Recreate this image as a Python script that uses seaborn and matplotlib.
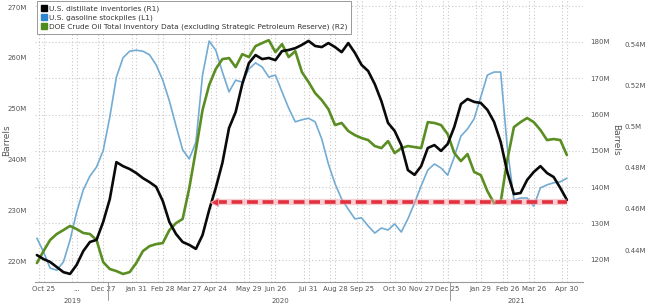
import numpy as np
import pandas as pd
import matplotlib
matplotlib.use("Agg")
import matplotlib.pyplot as plt
import matplotlib.dates as mdates
import matplotlib.transforms as mtransforms
from matplotlib.lines import Line2D
import seaborn as sns

# ---------------- data ----------------
start_date = "2019-10-18"
n_weeks = 81

distillate_r1 = [121.3, 120.2, 119.4, 118.0, 116.6, 116.1, 118.6, 122.4, 124.9, 125.5,
                 130.4, 136.7, 146.9, 145.8, 145.0, 143.9, 142.5, 141.4, 140.1, 136.2,
                 130.4, 127.1, 124.9, 124.1, 123.0, 126.8, 133.7, 139.8, 146.7, 156.3,
                 160.7, 168.4, 174.2, 176.4, 175.3, 175.6, 175.0, 177.5, 177.8, 178.3,
                 179.2, 180.3, 178.9, 178.6, 179.7, 178.6, 177.2, 179.7, 177.0, 173.7,
                 172.0, 168.4, 163.7, 157.7, 155.5, 151.6, 144.7, 143.4, 145.8, 150.8,
                 151.6, 150.0, 151.9, 156.6, 162.9, 164.3, 163.5, 163.2, 161.3, 158.0,
                 152.5, 144.2, 138.1, 138.4, 142.0, 144.2, 145.8, 143.9, 142.8, 139.8,
                 136.5]

gasoline_l1 = [224.5, 221.8, 218.6, 218.2, 219.8, 224.1, 229.6, 234.0, 236.7, 238.5,
               241.7, 248.3, 256.2, 260.0, 261.3, 261.5, 261.3, 260.6, 258.6, 255.6,
               251.5, 246.6, 241.9, 240.1, 243.4, 256.6, 263.3, 261.5, 257.2, 253.3,
               255.6, 255.2, 257.8, 259.0, 258.2, 256.2, 256.6, 253.3, 250.1, 247.4,
               247.8, 248.1, 247.4, 244.0, 239.1, 235.2, 232.2, 230.2, 228.3, 228.5,
               226.9, 225.5, 226.5, 226.1, 227.3, 225.7, 228.3, 231.4, 234.8, 237.9,
               239.1, 238.3, 236.9, 240.5, 244.6, 246.0, 248.0, 252.3, 256.6, 257.2,
               257.2, 242.4, 232.0, 232.4, 232.4, 230.8, 234.4, 235.0, 235.4, 235.6,
               236.3]

crude_r2 = [0.4337, 0.4395, 0.4449, 0.4478, 0.4497, 0.4517, 0.4502, 0.4483, 0.4478, 0.4449,
            0.4342, 0.4308, 0.4298, 0.4284, 0.4293, 0.4337, 0.4395, 0.4419, 0.4429, 0.4434,
            0.4497, 0.4531, 0.4551, 0.4701, 0.4885, 0.5080, 0.5201, 0.5279, 0.5327, 0.5332,
            0.5288, 0.5351, 0.5337, 0.5390, 0.5405, 0.5419, 0.5361, 0.5400, 0.5337, 0.5366,
            0.5264, 0.5216, 0.5162, 0.5128, 0.5084, 0.5007, 0.5017, 0.4978, 0.4958, 0.4944,
            0.4934, 0.4905, 0.4895, 0.4929, 0.4871, 0.4895, 0.4905, 0.4900, 0.4895, 0.5021,
            0.5017, 0.5007, 0.4963, 0.4871, 0.4832, 0.4866, 0.4779, 0.4764, 0.4686, 0.4628,
            0.4633, 0.4837, 0.4997, 0.5021, 0.5041, 0.5021, 0.4983, 0.4934, 0.4939, 0.4934,
            0.4861]

tick_dates = ["2019-10-25", "2019-11-29", "2019-12-27", "2020-01-31", "2020-02-28",
              "2020-03-27", "2020-04-24", "2020-05-29", "2020-06-26", "2020-07-31",
              "2020-08-28", "2020-09-25", "2020-10-30", "2020-11-27", "2020-12-25",
              "2021-01-29", "2021-02-26", "2021-03-26", "2021-04-30"]
tick_labels = ["Oct 25", "...", "Dec 27", "Jan 31", "Feb 28", "Mar 27", "Apr 24",
               "May 29", "Jun 26", "Jul 31", "Aug 28", "Sep 25", "Oct 30", "Nov 27",
               "Dec 25", "Jan 29", "Feb 26", "Mar 26", "Apr 30"]

year_labels = ["2019", "2020", "2021"]
year_centers = ["2019-11-25", "2020-07-01", "2021-03-08"]
year_breaks = ["2020-01-01", "2020-12-27"]

l1_ticks = [220, 230, 240, 250, 260, 270]
r1_ticks = [120, 130, 140, 150, 160, 170, 180]
r1_grid = [120, 130, 140, 150, 160, 170, 180, 190]
r2_ticks = [0.44, 0.46, 0.48, 0.50, 0.52, 0.54]
r2_labels = ["0.44M", "0.46M", "0.48M", "0.5M", "0.52M", "0.54M"]

series_names = ["U.S. distillate inventories (R1)",
                "U.S. gasoline stockpiles (L1)",
                "DOE Crude Oil Total Inventory Data (excluding Strategic Petroleum Reserve) (R2)"]

arrow_level = 135.9
arrow_start = "2020-04-24"
arrow_end = "2021-04-30"

# ---------------- styling ----------------
sns.set_theme(style="white")
plt.rcParams["font.family"] = ["DejaVu Sans"]

c_black = "#0a0a0a"
c_blue = "#72abd3"
c_green = "#5b8e22"
c_text = "#555555"
c_grid = "#c8c8c8"

dates = pd.date_range(start_date, periods=n_weeks, freq="7D")
df = pd.DataFrame({"date": dates, "dist": distillate_r1,
                   "gas": gasoline_l1, "crude": crude_r2})

W, H = 650, 304
fig = plt.figure(figsize=(W / 100, H / 100), dpi=100)
fig.patch.set_facecolor("white")
rect = [35 / W, 22 / H, 548 / W, 282 / H]

base = fig.add_axes(rect)           # grid + R1 tick labels
ax_l = base.twinx()                 # gasoline (L1)
ax_c = base.twinx()                 # crude (R2)
ax_d = base.twinx()                 # distillate (R1)

r1_lim = (113.88, 191.57)
l1_lim = (215.87, 271.38)
r2_lim = (0.4245, 0.5614)
xlim = (pd.Timestamp("2019-10-16"), pd.Timestamp("2021-05-17"))

for a in (base, ax_l, ax_c, ax_d):
    a.set_xlim(xlim)
    for s in a.spines.values():
        s.set_visible(False)
    a.patch.set_visible(False)
    a.set_xlabel("")
    a.set_ylabel("")

base.set_ylim(r1_lim)
ax_d.set_ylim(r1_lim)
ax_l.set_ylim(l1_lim)
ax_c.set_ylim(r2_lim)

# grid
base.yaxis.tick_right()
base.set_yticks(r1_grid)
base.set_yticklabels([f"{v}M" if v in r1_ticks else "" for v in r1_grid])
base.tick_params(axis="y", length=0, pad=5, labelsize=5, labelcolor=c_text)
base.grid(axis="y", color=c_grid, linestyle=(0, (1, 2)), linewidth=0.8)

major = [pd.Timestamp(d) for d in tick_dates]
minor = [d - pd.Timedelta(days=5) for d in major]
base.set_xticks(major)
base.set_xticklabels(tick_labels)
base.set_xticks(minor, minor=True)
base.grid(axis="x", which="both", color=c_grid, linestyle=(0, (1, 2)), linewidth=0.8)
base.tick_params(axis="x", which="major", direction="in", length=2, width=0.6,
                 color="#888888", pad=3, labelsize=5, labelcolor=c_text)
base.tick_params(axis="x", which="minor", length=0)
base.spines["bottom"].set_visible(True)
base.spines["bottom"].set_color("#999999")
base.spines["bottom"].set_linewidth(0.8)

ax_l.yaxis.tick_left()
ax_l.set_yticks(l1_ticks)
ax_l.set_yticklabels([f"{v}M" for v in l1_ticks])
ax_l.tick_params(axis="y", length=0, pad=6, labelsize=5, labelcolor=c_text)
ax_l.tick_params(axis="x", bottom=False, labelbottom=False)

ax_c.yaxis.tick_right()
ax_c.set_yticks(r2_ticks)
ax_c.set_yticklabels(r2_labels)
ax_c.tick_params(axis="y", length=0, pad=30, labelsize=5, labelcolor=c_text)
ax_c.tick_params(axis="x", bottom=False, labelbottom=False)

ax_d.set_yticks([])
ax_d.tick_params(axis="x", bottom=False, labelbottom=False)

# lines
sns.lineplot(data=df, x="date", y="gas", ax=ax_l, color=c_blue, linewidth=1.2)
sns.lineplot(data=df, x="date", y="crude", ax=ax_c, color=c_green, linewidth=1.9)
sns.lineplot(data=df, x="date", y="dist", ax=ax_d, color=c_black, linewidth=1.9)
for a in (ax_l, ax_c, ax_d):
    a.set_xlabel("")
    a.set_ylabel("")

# red dashed arrow
xs = [pd.Timestamp(arrow_start), pd.Timestamp(arrow_end)]
ax_d.plot(xs, [arrow_level, arrow_level], color="#f3a0a8", linewidth=4.5,
          alpha=0.5, solid_capstyle="butt", zorder=5)
ax_d.plot(xs, [arrow_level, arrow_level], color="#e3303f", linewidth=2.6,
          dashes=(3, 1.3), zorder=6)
ax_d.plot([xs[0] - pd.Timedelta(days=2)], [arrow_level], marker="<", markersize=6,
          color="#e3303f", markeredgecolor="#f3a0a8", markeredgewidth=0.8, zorder=7)

# year labels and separators
trans = mtransforms.blended_transform_factory(base.transData, base.transAxes)
for yb in year_breaks:
    base.plot([pd.Timestamp(yb)] * 2, [0, -0.065], transform=trans, color="#999999",
              linewidth=0.7, clip_on=False)
for lab, c in zip(year_labels, year_centers):
    base.text(pd.Timestamp(c), -0.055, lab, transform=trans, ha="center", va="top",
              fontsize=5, color=c_text)

# axis titles
fig.text(7 / W, 1 - 140 / H, "Barrels", rotation=90, ha="center", va="center",
         fontsize=6.5, color=c_text)
fig.text(616 / W, 1 - 140 / H, "Barrels", rotation=270, ha="center", va="center",
         fontsize=6.5, color=c_text)

# legend
handles = [Line2D([], [], marker="s", linestyle="none", markersize=4.5, color=c)
           for c in ("#000000", "#2f86d1", "#4f8a1c")]
leg = ax_d.legend(handles, series_names, loc="upper left",
                  bbox_to_anchor=(0.004, 0.995), fontsize=5.3, frameon=True,
                  fancybox=False, edgecolor="#999999", framealpha=1,
                  handlelength=0.8, handletextpad=0.3, borderpad=0.5,
                  labelspacing=0.35, borderaxespad=0)
leg.get_frame().set_linewidth(0.7)
for t in leg.get_texts():
    t.set_color("#333333")
leg.set_zorder(20)

fig.savefig("out.png", dpi=100, facecolor="white")
